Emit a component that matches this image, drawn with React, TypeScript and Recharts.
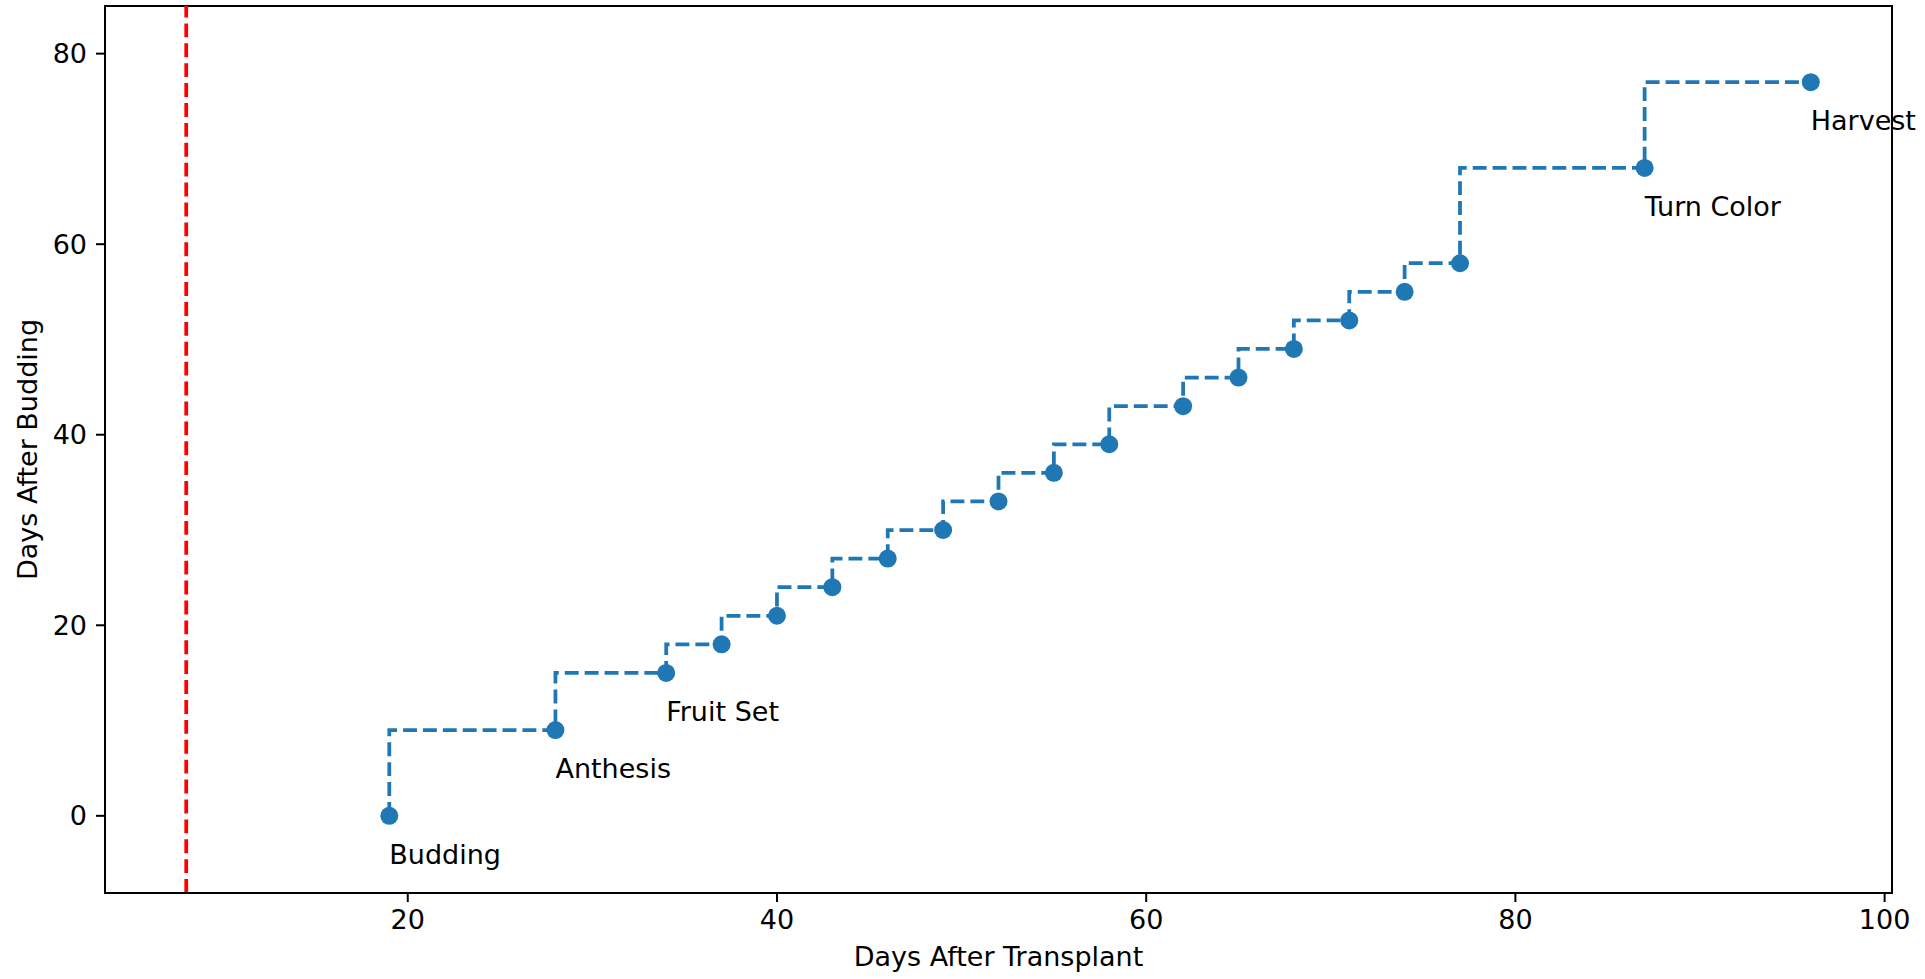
import {
  LineChart,
  Line,
  XAxis,
  YAxis,
  ReferenceLine,
  ReferenceArea,
  LabelList,
} from "recharts";

const daysAfterTransplant = [19, 28, 34, 37, 40, 43, 46, 49, 52, 55, 58, 62, 65, 68, 71, 74, 77, 87, 96];
const daysAfterBudding = [0, 9, 15, 18, 21, 24, 27, 30, 33, 36, 39, 43, 46, 49, 52, 55, 58, 68, 77];
const stageLabels = [
  "Budding", "Anthesis", "Fruit Set", "", "", "", "", "", "", "", "", "", "", "", "", "", "",
  "Turn Color", "Harvest",
];
const xTicks = [20, 40, 60, 80, 100];
const yTicks = [0, 20, 40, 60, 80];
const transplantDay = 8;

const X_DOMAIN: [number, number] = [3.6, 100.4];
const Y_DOMAIN: [number, number] = [-8.1, 85];

const data = daysAfterTransplant.map((d, i) => ({
  dat: d,
  dab: daysAfterBudding[i],
  stage: stageLabels[i],
}));

const FONT = "'DejaVu Sans', sans-serif";
const FS = 27;
const BLUE = "#1f77b4";
const DASH = "13.9 6";

const StageLabel = (props: any) => {
  const { x, y, value } = props;
  if (!value) return null;
  return (
    <text x={x} y={y + 48} fontFamily={FONT} fontSize={FS} fill="#000" textAnchor="start">
      {value}
    </text>
  );
};

const YTitle = (props: any) => {
  const vb = props.viewBox;
  const cy = vb.y + vb.height / 2;
  return (
    <text
      x={27}
      y={cy}
      transform={`rotate(-90, 27, ${cy})`}
      textAnchor="middle"
      dominantBaseline="central"
      fontFamily={FONT}
      fontSize={FS}
      fill="#000"
    >
      Days After Budding
    </text>
  );
};

const XTitle = (props: any) => {
  const vb = props.viewBox;
  return (
    <text
      x={vb.x + vb.width / 2}
      y={966}
      textAnchor="middle"
      fontFamily={FONT}
      fontSize={FS}
      fill="#000"
    >
      Days After Transplant
    </text>
  );
};

export default function App() {
  const tickStyle = { fontFamily: FONT, fontSize: FS, fill: "#000" };
  return (
    <div style={{ position: "absolute", left: 0, top: 0, background: "#fff" }}>
      <LineChart width={1925} height={979} data={data} margin={{ top: 6, right: 33, bottom: 0, left: 0 }}>
        <XAxis
          dataKey="dat"
          type="number"
          domain={X_DOMAIN}
          allowDataOverflow
          ticks={xTicks}
          interval={0}
          height={86}
          tick={tickStyle}
          tickSize={9}
          tickMargin={8}
          tickLine={{ stroke: "#000", strokeWidth: 2 }}
          axisLine={{ stroke: "#000", strokeWidth: 2 }}
          label={{ content: XTitle }}
        />
        <YAxis
          type="number"
          domain={Y_DOMAIN}
          allowDataOverflow
          ticks={yTicks}
          interval={0}
          width={105}
          tick={tickStyle}
          tickSize={9}
          tickMargin={9}
          tickLine={{ stroke: "#000", strokeWidth: 2 }}
          axisLine={{ stroke: "#000", strokeWidth: 2 }}
          label={{ content: YTitle }}
        />
        <ReferenceArea
          x1={X_DOMAIN[0]}
          x2={X_DOMAIN[1]}
          y1={Y_DOMAIN[0]}
          y2={Y_DOMAIN[1]}
          fill="none"
          fillOpacity={0}
          stroke="#000"
          strokeWidth={2}
          strokeOpacity={1}
          ifOverflow="visible"
        />
        <ReferenceLine x={transplantDay} stroke="#ff0000" strokeWidth={3.75} strokeDasharray={DASH} />
        <Line
          dataKey="dab"
          type="stepBefore"
          stroke={BLUE}
          strokeWidth={3.75}
          strokeDasharray={DASH}
          dot={{ r: 9, fill: BLUE, stroke: "none", strokeDasharray: "0" }}
          activeDot={false}
          isAnimationActive={false}
        >
          <LabelList dataKey="stage" content={StageLabel} />
        </Line>
      </LineChart>
    </div>
  );
}
